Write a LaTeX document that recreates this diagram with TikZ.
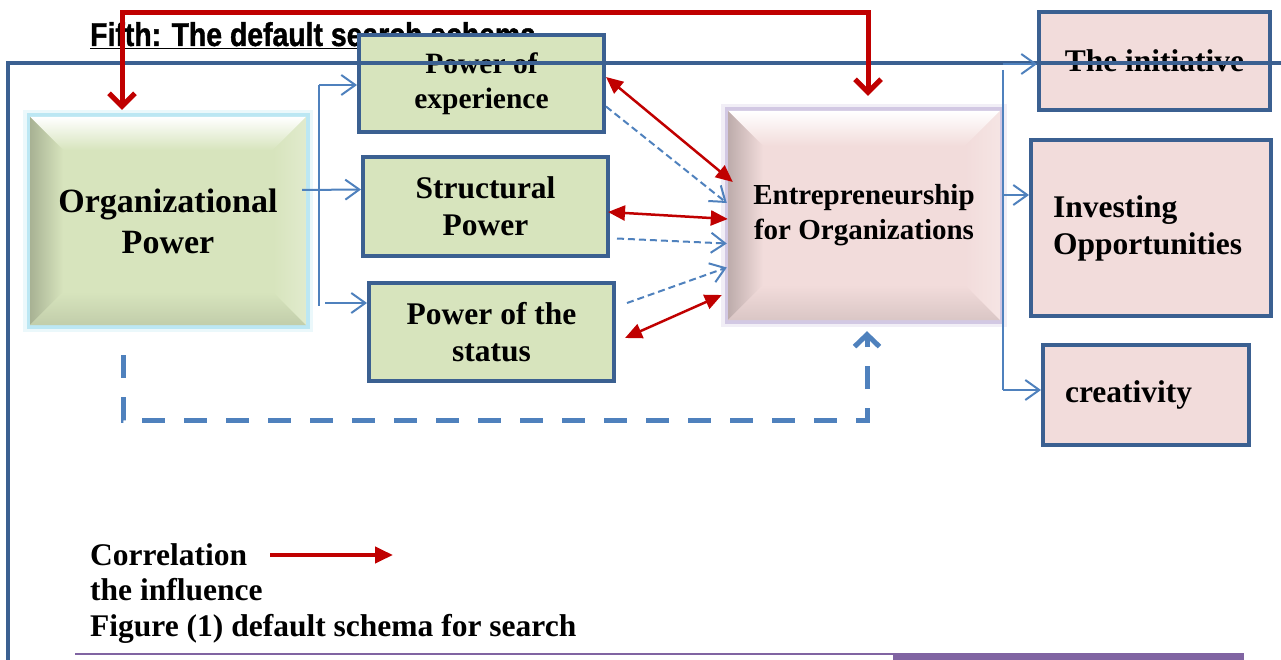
\documentclass[tikz,border=0pt]{standalone}
\usepackage{fontspec}
\setmainfont{Liberation Serif}
\newfontfamily\titlefont[FakeStretch=0.86, FakeBold=1.2, UprightFont={* Bold}]{Liberation Sans}
\usetikzlibrary{arrows.meta,positioning}

\definecolor{frameblue}{HTML}{3B6091}
\definecolor{linkblue}{HTML}{4F81BD}
\definecolor{corrred}{HTML}{C00000}
\definecolor{greenfill}{HTML}{D7E4BD}
\definecolor{pinkfill}{HTML}{F2DCDB}
\definecolor{glowcyan}{HTML}{8ED6EA}
\definecolor{glowpurple}{HTML}{B3A2CF}
\definecolor{rulepurple}{HTML}{8064A2}

\tikzset{
  powerbox/.style={rectangle, draw=frameblue, line width=4pt, fill=greenfill, inner sep=0pt,
    minimum width=245pt, minimum height=98pt, align=center,
    font=\bfseries\fontsize{31.5}{37}\selectfont},
  outbox/.style={powerbox, fill=pinkfill},
  glow/.style={preaction={draw=#1, line width=14pt, opacity=.18},
    preaction={draw=#1, line width=7pt, opacity=.5}},
  bevel/.style 2 args={path picture={
    \path (path picture bounding box.north west) coordinate (bnw)
      (path picture bounding box.north east) coordinate (bne)
      (path picture bounding box.south west) coordinate (bsw)
      (path picture bounding box.south east) coordinate (bse);
    \shade[top color=white, bottom color=#2] (bnw) -- (bne) -- ([shift={(-#1,-#1)}]bne) -- ([shift={(#1,-#1)}]bnw) -- cycle;
    \shade[left color=#2!78!black, right color=#2] (bnw) -- ([shift={(#1,-#1)}]bnw) -- ([shift={(#1,#1)}]bsw) -- (bsw) -- cycle;
    \shade[top color=#2, bottom color=#2!90!black] (bsw) -- ([shift={(#1,#1)}]bsw) -- ([shift={(-#1,#1)}]bse) -- (bse) -- cycle;
    \shade[left color=#2, right color=#2!75!white] (bne) -- (bse) -- ([shift={(-#1,#1)}]bse) -- ([shift={(-#1,-#1)}]bne) -- cycle;
  }},
  bigbox/.style={rectangle, inner sep=0pt, align=center},
  orgbox/.style={bigbox, fill=greenfill, minimum width=276pt, minimum height=208pt,
    glow=glowcyan, bevel={33pt}{greenfill}, font=\bfseries\fontsize{34}{41}\selectfont},
  entbox/.style={bigbox, fill=pinkfill, minimum width=272pt, minimum height=209pt,
    glow=glowpurple, bevel={35pt}{pinkfill}, font=\bfseries\fontsize{29}{35}\selectfont},
  titletext/.style={anchor=base west, inner sep=0pt, font=\titlefont\fontsize{33}{40}\selectfont},
  keytext/.style={anchor=base west, inner sep=0pt, font=\bfseries\fontsize{31.5}{37}\selectfont},
  framerule/.style={draw=frameblue, line width=4pt},
  busline/.style={draw=linkblue, line width=2pt},
  feedlink/.style={busline, -{Straight Barb[length=14pt,width=20pt]}},
  corr/.style={draw=corrred, line width=2.5pt,
    {Triangle[length=17pt,width=15pt]}-{Triangle[length=17pt,width=15pt]}},
  infl/.style={draw=linkblue, line width=2pt, dash pattern=on 7pt off 4pt,
    -{Straight Barb[length=14pt,width=20pt]}},
  bigcorr/.style={draw=corrred, line width=5pt,
    {Straight Barb[length=13pt,width=26pt]}-{Straight Barb[length=13pt,width=26pt]}},
  biginfl/.style={draw=linkblue, line width=5pt, dash pattern=on 23pt off 19pt,
    -{Straight Barb[length=12pt,width=25pt]}},
  keyarrow/.style={draw=corrred, line width=4pt, -{Triangle[length=18pt,width=16pt]}}
}

\begin{document}
\begin{tikzpicture}[x=1pt, y=-1pt]
\useasboundingbox (0,0) rectangle (1281,660);

% Title
\node[titletext] (title) at (90,46) {\underline{Fifth: The default search schema}};

% Organizational power and its forms
\node[orgbox] (org) at (168,221) {Organizational\\Power};
\node[powerbox, minimum height=97pt, font=\bfseries\fontsize{29.5}{35}\selectfont] (exp) at (481.5,83.5) {Power of\\experience};
\node[powerbox, minimum height=99pt] (struct) at (485.5,206.5) {Structural\\Power};
\node[powerbox] (status) at (491.5,332) {Power of the\\status};

% Entrepreneurship and its outcomes
\node[entbox] (ent) at (864,215.5) {Entrepreneurship\\for Organizations};
\node[outbox, minimum width=231pt] (init) at (1154.5,61) {The initiative};
\node[outbox, minimum width=240pt, minimum height=176pt, text width=196pt, align=left] (invest) at (1151,228) {Investing\\Opportunities};
\node[outbox, minimum width=206pt, minimum height=100pt, text width=162pt, align=left] (creat) at (1146,395) {creativity};

% Frame
\draw[framerule] (8,700) -- (8,63) -- (1300,63);

% Links from organizational power
\coordinate (ltop) at (319,85);
\coordinate (lbot) at (319,306);
\coordinate (lstatus) at (325,303);
\draw[busline] (ltop) -- (lbot);
\draw[feedlink] (ltop) -- (ltop -| exp.west);
\draw[feedlink] ([xshift=-4pt,yshift=31pt]org.east) -- ([yshift=17pt]struct.west);
\draw[feedlink] (lstatus) -- (lstatus -| status.west);

% Links to the outcomes
\coordinate (rtop) at (1003,64);
\coordinate (rinv) at (1003,195);
\coordinate (rbot) at (1003,390);
\draw[busline] ([yshift=-6pt]rtop) -- (rbot);
\draw[feedlink] (rtop) -- (rtop -| init.west);
\draw[feedlink] (rinv) -- (rinv -| invest.west);
\draw[feedlink] (rbot) -- (rbot -| creat.west);

% Correlation
\draw[corr] ([yshift=6.5pt]exp.east) -- ([xshift=5pt,yshift=33.5pt]ent.west);
\draw[corr] ([xshift=-2pt,yshift=-5.5pt]struct.east) -- ([yshift=-3.5pt]ent.west);
\draw[corr] ([xshift=9pt,yshift=-6pt]status.east) -- ([xshift=-6pt,yshift=-79.5pt]ent.west);

% Influence
\draw[infl] ([yshift=-23pt]exp.east) -- ([xshift=-1pt,yshift=12.5pt]ent.west);
\draw[infl] ([xshift=7pt,yshift=-32pt]struct.east) -- ([xshift=-1pt,yshift=-28pt]ent.west);
\draw[infl] ([xshift=11pt,yshift=29pt]status.east) -- ([xshift=-1pt,yshift=-52pt]ent.west);

% Overall relations
\draw[bigcorr] ([xshift=-46pt,yshift=7pt]org.north) -- ++(0,-97) -| ([xshift=4pt,yshift=15pt]ent.north);
\draw[biginfl] ([xshift=-45pt,yshift=-30pt]org.south) -- ++(0,65) -| ([xshift=3pt,yshift=-11pt]ent.south);

% Legend
\node[keytext] (corrkey) at (90,565) {Correlation};
\node[keytext] (inflkey) at ([yshift=-35pt]corrkey.base west) {the influence};
\node[keytext] (figcap) at ([yshift=-36pt]inflkey.base west) {Figure (1) default schema for search};
\coordinate (keytip) at (393,555);
\draw[keyarrow] (keytip -| corrkey.east) ++(23,0) -- (keytip);

% Bottom rule
\draw[rulepurple, line width=2.5pt] (75,654) -- (1244,654);
\fill[rulepurple] (893,653) rectangle (1244,661);

\end{tikzpicture}
\end{document}
